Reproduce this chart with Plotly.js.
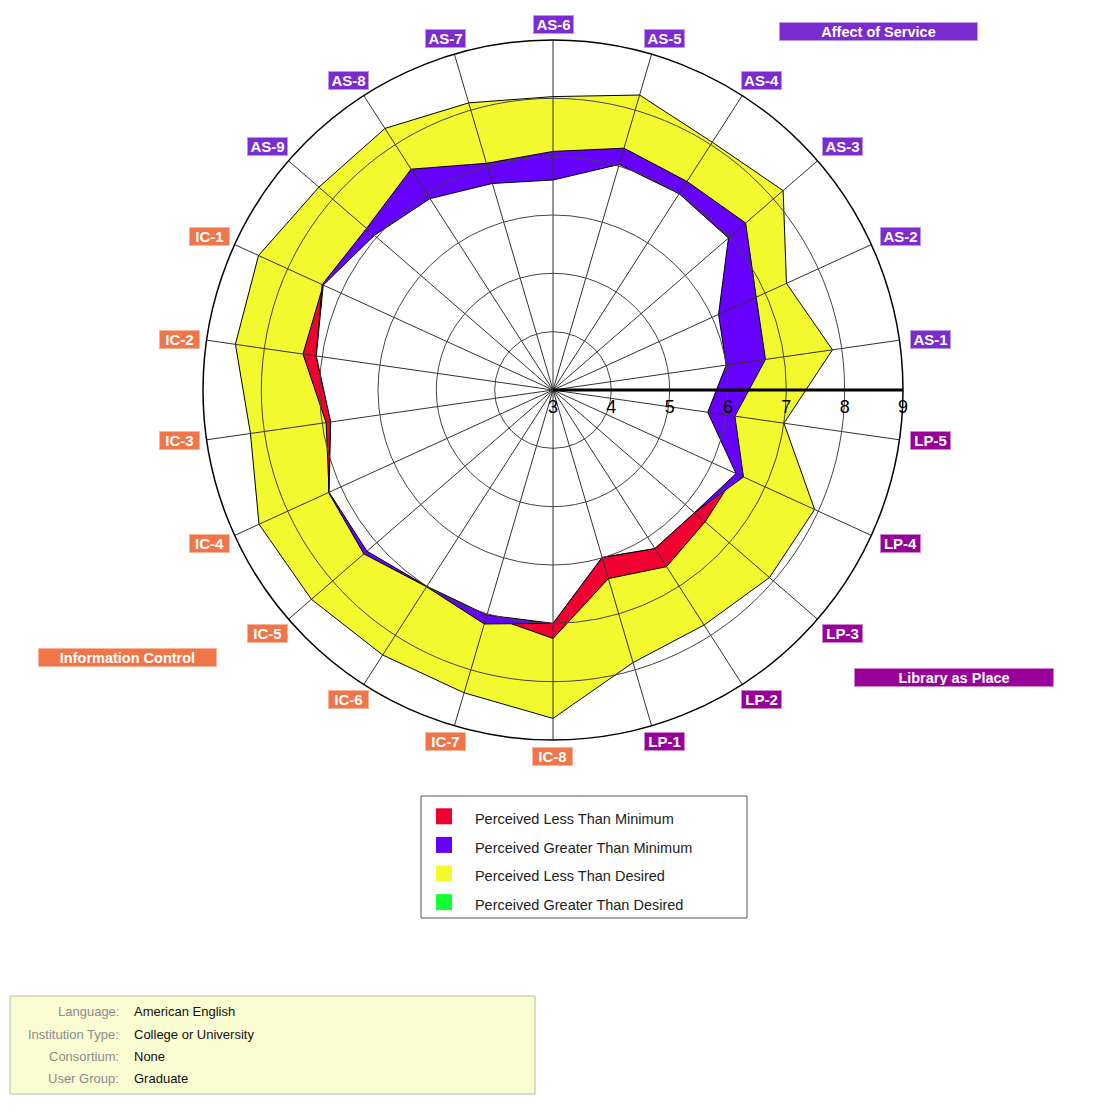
<!DOCTYPE html>
<html><head><meta charset="utf-8">
<script src="https://cdn.plot.ly/plotly-3.0.1.min.js"></script>
<style>html,body{margin:0;padding:0;background:#fff}#chart{width:1106px;height:1114px}</style>
</head><body><div id="chart"></div>
<script>
// ---- data ----
const items = ['AS-1','AS-2','AS-3','AS-4','AS-5','AS-6','AS-7','AS-8','AS-9',
  'IC-1','IC-2','IC-3','IC-4','IC-5','IC-6','IC-7','IC-8',
  'LP-1','LP-2','LP-3','LP-4','LP-5'];
const minimum   = [6.00,6.12,6.98,7.00,7.03,6.60,6.69,6.90,7.05, 7.33,7.33,6.93,7.22,7.22,7.00,7.02,7.26, 6.37,6.60,6.45,6.45,5.68];
const desired   = [7.84,7.40,8.22,8.05,8.27,8.03,8.13,8.33,8.31, 8.55,8.50,8.24,8.54,8.48,8.40,8.41,8.63, 7.87,7.79,7.91,7.93,7.00];
const perceived = [6.68,6.83,7.37,7.25,7.32,7.09,7.05,7.50,7.23, 7.35,7.10,6.85,7.23,7.29,7.01,7.18,7.00, 5.99,6.23,6.21,6.59,6.15];
const radialTicks = [3,4,5,6,7,8,9];
const groupNames = {AS:'Affect of Service', IC:'Information Control', LP:'Library as Place'};
const legendNames = ['Perceived Less Than Minimum','Perceived Greater Than Minimum','Perceived Less Than Desired','Perceived Greater Than Desired'];
const infoLabels = ['Language:','Institution Type:','Consortium:','User Group:'];
const infoValues = ['American English','College or University','None','Graduate'];

// ---- styles ----
const W = 1106, H = 1114, CX = 553, CY = 390, R = 350;
const FONT = 'Liberation Sans, Arial, sans-serif';
const RED = '#f00030', BLUE = '#6600ff', YELLOW = '#f2f92f', GREEN = '#11ff33';
const legendColors = [RED, BLUE, YELLOW, GREEN];
const groupColors = {AS:'#7b2bcf', IC:'#f0764a', LP:'#990099'};
const groupBorders = {AS:'#b79be6', IC:'#f7b49a', LP:'#cc88cc'};
const N = items.length;
const ROT = 90 - 5 * 360 / N;

const close = a => a.concat([a[0]]);
const lower = perceived.map((p, i) => Math.min(p, minimum[i]));
const lineStyle = {color:'#000', width:1};

function poly(r, color) {
  return {type:'scatterpolar', subplot:'polar', r: close(r), theta: close(items),
    mode:'lines', fill:'toself', fillcolor: color, line: lineStyle,
    showlegend:false, hoverinfo:'skip'};
}
const traces = [
  poly(desired, YELLOW),
  poly(minimum, RED),
  poly(perceived, BLUE),
  poly(lower, '#ffffff'),
  {type:'scatterpolar', subplot:'polar2', r: desired, theta: items, mode:'lines',
    line:{width:0}, opacity:0, showlegend:false, hoverinfo:'skip'}
];
legendNames.forEach((n, i) => {
  traces.push({type:'scatterpolar', subplot:'polar', r:[null], theta:[null], mode:'markers',
    marker:{symbol:'square', size:16, color: legendColors[i]},
    name: '&nbsp;&nbsp;<span style="font-size:14.5px">' + n + '</span>', hoverinfo:'skip'});
});

const angCommon = {type:'category', categoryorder:'array', categoryarray: items,
  rotation: ROT, direction:'counterclockwise'};
const domain = {x:[(CX - R) / W, (CX + R) / W], y:[1 - (CY + R) / H, 1 - (CY - R) / H]};

const annotations = [];
const shapes = [];
// category labels placed just outside the outer ring
items.forEach((it, i) => {
  const g = it.slice(0, 2);
  const a = (ROT + i * 360 / N) * Math.PI / 180;
  const c = Math.cos(a), s = Math.sin(a);
  const A = 355;
  let xt = 0;
  if (Math.abs(c) > 0.01) xt = c > 0 ? 6 + 20 * c : -(2 + 20 * Math.abs(c));
  const yt = 11 * Math.sign(s) * Math.min(1, Math.max(0, (Math.abs(s) - 0.15) / 0.5));
  const px = CX + A * c + xt, py = CY - (A * s + yt);
  annotations.push({xref:'paper', yref:'paper', x: px / W, y: 1 - py / H,
    xanchor:'center', yanchor:'middle', showarrow:false, text: it,
    font:{family:FONT, size:15, color:'#fff', weight:'bold'},
    bgcolor: groupColors[g], bordercolor: groupBorders[g], borderwidth:1, borderpad:1,
    width:37, height:15});
});
// group labels
const groupBoxes = {AS:[779,978,22,41], IC:[38,217,648,667], LP:[854,1054,668,687]};
Object.keys(groupNames).forEach(g => {
  const b = groupBoxes[g];
  annotations.push({xref:'paper', yref:'paper', x:(b[0] + b[1]) / 2 / W, y:1 - (b[2] + b[3]) / 2 / H,
    xanchor:'center', yanchor:'middle', showarrow:false, text: groupNames[g],
    font:{family:FONT, size:14.5, color:'#fff', weight:'bold'},
    bgcolor: groupColors[g], bordercolor: groupBorders[g], borderwidth:1, borderpad:1,
    width: b[1] - b[0] - 4, height: b[3] - b[2] - 4});
});
// legend border
shapes.push({type:'rect', xref:'paper', yref:'paper', x0:421 / W, x1:747 / W, y0:1 - 918 / H, y1:1 - 796 / H,
  line:{color:'#555', width:1}, fillcolor:'rgba(0,0,0,0)'});
// info box
shapes.push({type:'rect', xref:'paper', yref:'paper', x0:10 / W, x1:535 / W, y0:1 - 1094 / H, y1:1 - 996 / H,
  line:{color:'#b8bb9e', width:1}, fillcolor:'#fafcd2', layer:'below'});
const infoRows = [1011, 1034, 1056, 1078];
infoLabels.forEach((l, i) => {
  annotations.push({xref:'paper', yref:'paper', x:121 / W, y:1 - infoRows[i] / H, xanchor:'right', yanchor:'middle',
    showarrow:false, text:l, font:{family:FONT, size:13, color:'#8c8c8c'}});
  annotations.push({xref:'paper', yref:'paper', x:132 / W, y:1 - infoRows[i] / H, xanchor:'left', yanchor:'middle',
    showarrow:false, text:infoValues[i], font:{family:FONT, size:13, color:'#111'}});
});

const layout = {
  width: W, height: H, margin:{l:0, r:0, t:0, b:0},
  paper_bgcolor:'#fff', font:{family:FONT},
  polar: {domain, bgcolor:'#fff',
    radialaxis:{range:[3, 9], visible:false, angle:0},
    angularaxis: Object.assign({visible:false}, angCommon)},
  polar2: {domain, bgcolor:'rgba(0,0,0,0)',
    radialaxis:{range:[3, 9], angle:0, tickvals: radialTicks, ticktext: radialTicks.map(String), ticks:'',
      showline:true, linecolor:'#000', linewidth:3, gridcolor:'#444', gridwidth:1,
      tickfont:{family:FONT, size:18, color:'#000'}, side:'clockwise'},
    angularaxis: Object.assign({showticklabels:false, ticks:'', showline:true, linecolor:'#000', linewidth:1.5,
      gridcolor:'#333', gridwidth:1}, angCommon)},
  showlegend:true,
  legend:{x:424 / W, y:1 - 797 / H, xanchor:'left', yanchor:'top', bgcolor:'rgba(0,0,0,0)', borderwidth:0,
    font:{family:FONT, size:19.7, color:'#222'}, itemclick:false, itemdoubleclick:false},
  annotations, shapes
};
Plotly.newPlot('chart', traces, layout, {staticPlot:true, displayModeBar:false});
</script></body></html>
